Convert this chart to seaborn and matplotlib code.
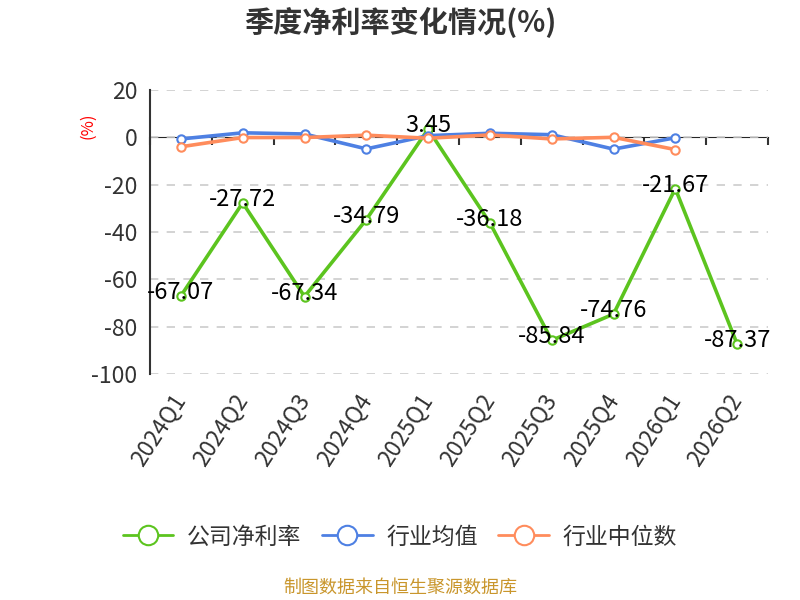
import numpy as np
import pandas as pd
import matplotlib
matplotlib.use("Agg")
import matplotlib.pyplot as plt
from matplotlib.lines import Line2D
from matplotlib.ticker import MultipleLocator
import seaborn as sns

# ── Data ─────────────────────────────────────────────────────
quarters = ["2024Q1", "2024Q2", "2024Q3", "2024Q4", "2025Q1",
            "2025Q2", "2025Q3", "2025Q4", "2026Q1", "2026Q2"]
company = [-67.07, -27.72, -67.34, -34.79, 3.45,
           -36.18, -85.84, -74.76, -21.67, -87.37]
industry_mean = [-0.7, 1.9, 1.4, -4.9, 0.7, 1.7, 1.1, -5.0, -0.2, np.nan]
industry_median = [-4.0, -0.1, -0.1, 0.9, -0.4, 1.0, -0.7, 0.0, -5.2, np.nan]

series_names = ["公司净利率", "行业均值", "行业中位数"]
colors = ["#5cc41f", "#4e80e3", "#ff8c5c"]

sns.set_style("white")
plt.rcParams["font.family"] = ["Noto Sans CJK SC", "DejaVu Sans"]
plt.rcParams["axes.unicode_minus"] = False

df = pd.DataFrame({
    "quarter": quarters * 3,
    "value": company + industry_mean + industry_median,
    "series": np.repeat(series_names, len(quarters)),
})
df["x"] = np.tile(np.arange(len(quarters)), 3)

fig = plt.figure(figsize=(8, 6), dpi=100)
ax = fig.add_axes([0.1875, 0.377, 0.7725, 0.473])

# company first, industry lines drawn over it
for name, col in zip(series_names, colors):
    sub = df[df["series"] == name].dropna()
    sns.lineplot(data=sub, x="x", y="value", color=col, linewidth=2.6,
                 marker="o", markersize=6, markerfacecolor="white",
                 markeredgecolor=col, markeredgewidth=1.5, ax=ax,
                 legend=False, zorder=3)

# data labels for company series
for i, v in enumerate(company):
    ax.text(i, v + 1.5, f"{v:.2f}", ha="center", va="center",
            fontsize=17, color="black", zorder=5)

# ── Axes styling ─────────────────────────────────────────────
ax.set_xlim(-0.5, len(quarters) - 0.5)
ax.set_ylim(-100, 20)
ax.yaxis.set_major_locator(MultipleLocator(20))
ax.grid(axis="y", color="#cccccc", linestyle=(0, (5, 5)), linewidth=1.2)
ax.grid(axis="x", visible=False)
for s in ["top", "right", "bottom"]:
    ax.spines[s].set_visible(False)
ax.spines["left"].set_color("#333333")
ax.spines["left"].set_linewidth(1.5)
ax.tick_params(axis="y", direction="out", length=6, width=1.5,
               color="#333333", labelsize=16.5, labelcolor="#333333", pad=3)

ax.set_xticks(range(len(quarters)))
ax.set_xticklabels(quarters, rotation=57, ha="right", va="center",
                   rotation_mode="anchor", fontsize=16.5, color="#333333")
ax.tick_params(axis="x", length=0, pad=16)
ax.set_xlabel("")
ax.set_ylabel("")

# zero axis line with category boundary ticks
zero_frac = (0 - (-100)) / (20 - (-100))
sec = ax.secondary_xaxis(zero_frac)
bounds = np.arange(-0.5, len(quarters), 1.0)
sec.set_xticks(bounds, labels=[""] * len(bounds))
sec.tick_params(axis="x", direction="in", length=6, width=1.5,
                color="#333333")
sec.spines["bottom"].set_color("#333333")
sec.spines["bottom"].set_linewidth(1.5)

# ── Texts ────────────────────────────────────────────────────
fig.text(0.5, 0.963, "季度净利率变化情况(%)", ha="center", va="center",
         fontsize=21, fontweight="bold", color="#333333")
fig.text(0.11, 0.79, "(%)", ha="center", va="center", rotation=90,
         fontsize=12, color="red")

handles = [Line2D([0], [0], color=c, linewidth=2, marker="o", markersize=14,
                  markerfacecolor="white", markeredgecolor=c,
                  markeredgewidth=1.5) for c in colors]
fig.legend(handles, series_names, loc="center", bbox_to_anchor=(0.5, 0.105),
           ncol=3, frameon=False, fontsize=16.5, handlelength=2.2,
           columnspacing=0.9, handletextpad=0.6, labelcolor="#333333")

fig.text(0.5, 0.02, "制图数据来自恒生聚源数据库", ha="center", va="center",
         fontsize=13, color="#c9962c")

plt.savefig("out.png", dpi=100)
